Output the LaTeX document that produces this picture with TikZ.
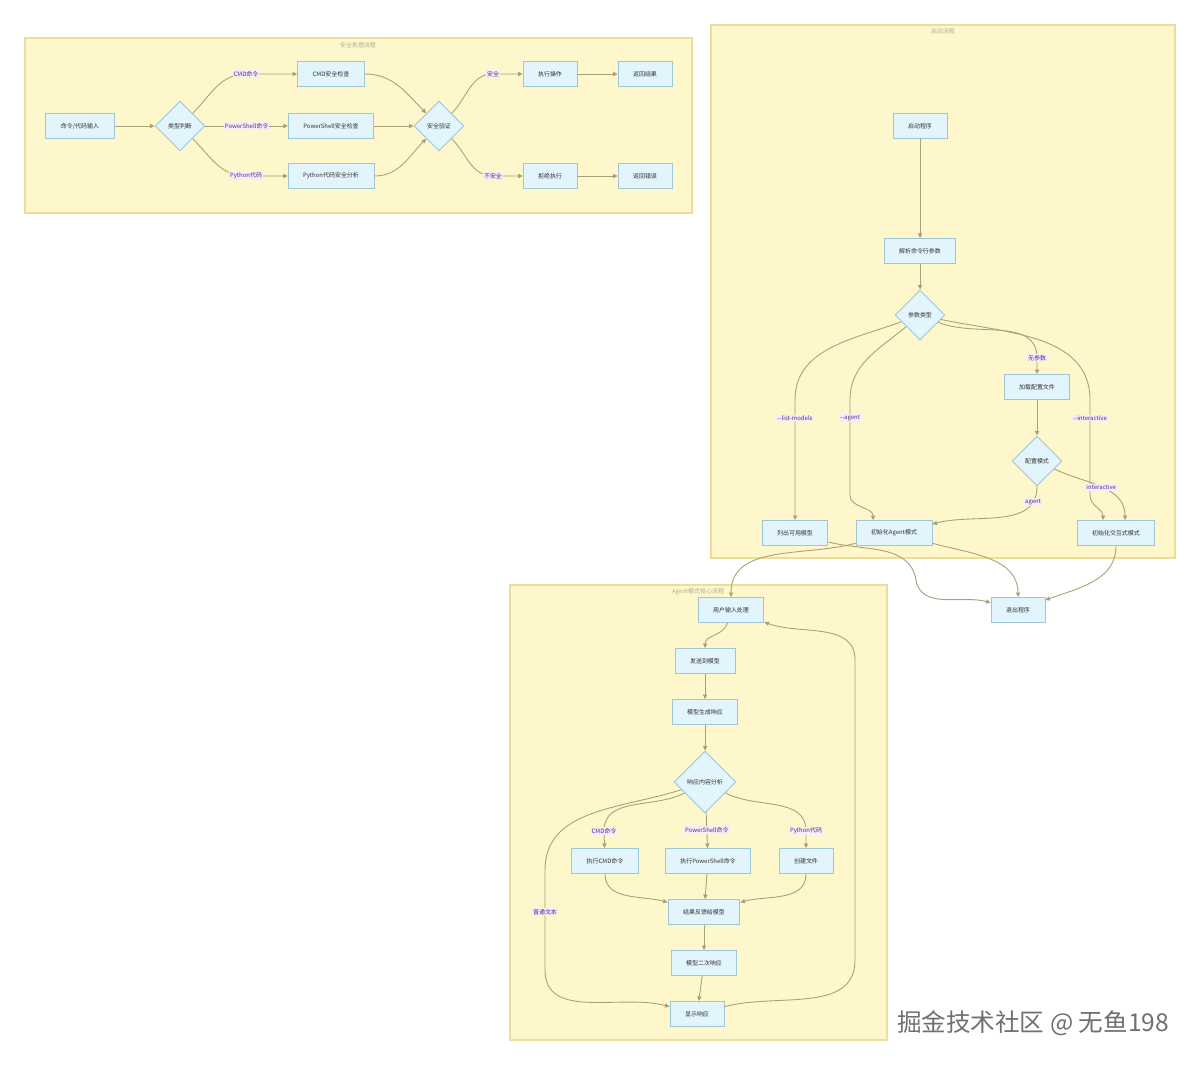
\documentclass[tikz,border=0pt]{standalone}
\usepackage{fontspec}
\setmainfont{Noto Sans CJK SC}
\usetikzlibrary{shapes.geometric,arrows.meta,positioning}
\definecolor{clfill}{RGB}{255,247,204}
\definecolor{cldraw}{RGB}{236,222,150}
\definecolor{ndfill}{RGB}{226,244,252}
\definecolor{nddraw}{RGB}{158,198,216}
\definecolor{lnk}{RGB}{168,160,118}
\definecolor{lbltxt}{RGB}{96,40,140}
\definecolor{lblbg}{RGB}{246,238,246}
\definecolor{ttl}{RGB}{178,172,150}
\definecolor{wmgris}{RGB}{112,112,112}

\begin{document}
\begin{tikzpicture}[x=0.02cm, y=-0.02cm,
  box/.style={rectangle, draw=nddraw, fill=ndfill, line width=0.5pt, minimum height=0.5cm,
    inner xsep=0.3cm, font=\fontsize{3.4}{4}\selectfont, text=black!80},
  dec/.style={diamond, aspect=1, draw=nddraw, fill=ndfill, line width=0.5pt, minimum size=1cm,
    inner sep=0pt, font=\fontsize{3.4}{4}\selectfont, text=black!80},
  grp/.style={draw=cldraw, fill=clfill, line width=0.6pt},
  gttl/.style={font=\fontsize{3.4}{4}\selectfont, text=ttl, anchor=north},
  tr/.style={-{Triangle[length=2.6pt,width=2.4pt]}, draw=lnk, line width=0.5pt},
  lbl/.style={font=\fontsize{3.4}{4}\selectfont, text=lbltxt, fill=lblbg, inner sep=0.6pt}
]
  \fill[white] (0,0) rectangle (1200,1065);

  \draw[grp] (25,38) rectangle (692,213);
  \node[gttl] (t1) at (358,36) {安全处理流程};
  \draw[grp] (711,25) rectangle (1175,558);
  \node[gttl] (t2) at (943,22) {启动流程};
  \draw[grp] (510,585) rectangle (887,1040);
  \node[gttl] (t3) at (698,582) {Agent模式核心流程};

  \node[box] (inp)  at (80,126)  {命令/代码输入};
  \node[dec] (typ)  at (180,126) {类型判断};
  \node[box] (cmdc) at (331,74)  {CMD安全检查};
  \node[box] (psc)  at (331,126) {PowerShell安全检查};
  \node[box] (pyc)  at (331,176) {Python代码安全分析};
  \node[dec] (ver)  at (439,126) {安全验证};
  \node[box] (run)  at (550,74)  {执行操作};
  \node[box] (ok)   at (645,74)  {返回结果};
  \node[box] (deny) at (550,176) {拒绝执行};
  \node[box] (err)  at (645,176) {返回错误};

  \draw[tr] (inp) -- (typ);
  \draw[tr] (typ.north east) to[out=45,in=180] (246,74) node[lbl] {CMD命令} -- (cmdc);
  \draw[tr] (typ.east) -- node[lbl] {PowerShell命令} (psc);
  \draw[tr] (typ.south east) to[out=-45,in=180] (246,176) node[lbl] {Python代码} -- (pyc);
  \draw[tr] (cmdc) to[out=0,in=135] (ver.north west);
  \draw[tr] (psc) -- (ver);
  \draw[tr] (pyc) to[out=0,in=-135] (ver.south west);
  \draw[tr] (ver.north east) to[out=45,in=180] (493,74) node[lbl] {安全} -- (run);
  \draw[tr] (ver.south east) to[out=-45,in=180] (493,176) node[lbl] {不安全} -- (deny);
  \draw[tr] (run) -- (ok);
  \draw[tr] (deny) -- (err);

  \node[box] (boot)  at (920,126)  {启动程序};
  \node[box] (parse) at (920,251)  {解析命令行参数};
  \node[dec] (arg)   at (920,315)  {参数类型};
  \node[box] (load)  at (1037,387) {加载配置文件};
  \node[dec] (mode)  at (1037,461) {配置模式};
  \node[box] (list)  at (795,533)  {列出可用模型};
  \node[box] (agt)   at (894,533)  {初始化Agent模式};
  \node[box] (inter) at (1116,533) {初始化交互式模式};
  \node[box] (quit)  at (1018,610) {退出程序};

  \draw[tr] (boot) -- (parse);
  \draw[tr] (parse) -- (arg);
  \draw[tr] (arg) to[out=-160,in=90] (795,400) -- node[lbl,pos=0.15] {-\kern0pt-list-models} (list);
  \draw[tr] (arg) to[out=-140,in=90] (850,400) -- node[lbl,pos=0.19] {-\kern0pt-agent} (850,495)
    to[out=-90,in=90] ([xshift=-0.42cm]agt.north);
  \draw[tr] (arg) to[out=-22,in=90] (1037,358) node[lbl] {无参数} -- (load);
  \draw[tr] (arg) to[out=-12,in=90] (1090,400) -- node[lbl,pos=0.19] {-\kern0pt-interactive} (1090,495)
    to[out=-90,in=90] ([xshift=-0.26cm]inter.north);
  \draw[tr] (load) -- (mode);
  \draw[tr] (mode) to[out=-90,in=15] node[lbl,pos=0.15] {agent} ([yshift=-0.08cm]agt.north east);
  \draw[tr] (mode) to[out=-25,in=90] node[lbl] {interactive} ([xshift=0.18cm]inter.north);
  \draw[tr] (list) to[out=-15,in=100] (916,580) to[out=-80,in=165] (quit);
  \draw[tr] (agt) to[out=-15,in=90] (quit);
  \draw[tr] (inter) to[out=-90,in=20] (quit);

  \node[box] (usr)  at (731,610)  {用户输入处理};
  \node[box] (snd)  at (705,661)  {发送到模型};
  \node[box] (gen)  at (705,712)  {模型生成响应};
  \node[dec, minimum size=1.24cm] (ana) at (705,782) {响应内容分析};
  \node[box] (xcmd) at (605,861)  {执行CMD命令};
  \node[box] (xps)  at (708,861)  {执行PowerShell命令};
  \node[box] (mkf)  at (806,861)  {创建文件};
  \node[box] (fb)   at (704,912)  {结果反馈给模型};
  \node[box] (re)   at (704,963)  {模型二次响应};
  \node[box] (show) at (697,1014) {显示响应};

  \draw[tr] (agt) to[out=-165,in=90] (usr.north);
  \draw[tr] (usr) to[out=-105,in=90] (snd);
  \draw[tr] (snd) -- (gen);
  \draw[tr] (gen) -- (ana);
  \draw[tr] (ana) to[out=-152,in=90] (604,831) node[lbl] {CMD命令} -- (xcmd);
  \draw[tr] (ana) -- node[lbl] {PowerShell命令} (xps);
  \draw[tr] (ana) to[out=-28,in=90] (806,831) node[lbl] {Python代码} -- (mkf);
  \draw[tr] (ana) to[out=-162,in=90] (545,870) -- node[lbl,pos=0.42] {普通文本} (545,970)
    to[out=-90,in=165] (show);
  \draw[tr] (xcmd) to[out=-90,in=165] (fb);
  \draw[tr] (xps) -- (fb);
  \draw[tr] (mkf) to[out=-90,in=15] (fb);
  \draw[tr] (fb) -- (re);
  \draw[tr] (re) -- (show);
  \draw[tr] (show) to[out=15,in=-90] (855,960) -- (855,660) to[out=90,in=-20] (usr);

  \node[font=\fontsize{14}{16}\selectfont, text=wmgris] (wm) at (1033,1023) {掘金技术社区 @ 无鱼198};
\end{tikzpicture}
\end{document}
